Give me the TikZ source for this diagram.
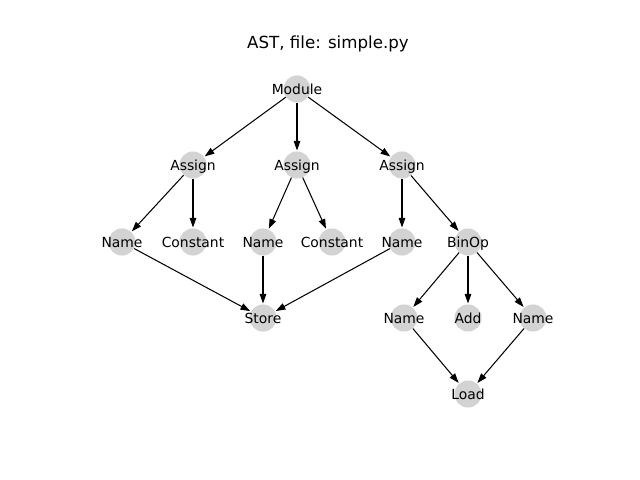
\documentclass[tikz,border=0pt]{standalone}
\usepackage{fontspec}
\setmainfont{DejaVu Sans}
\usetikzlibrary{arrows.meta}
\definecolor{nodegray}{HTML}{D3D3D3}
\tikzset{
  astnode/.style={circle,fill=nodegray,minimum size=19.5pt,inner sep=0pt,
    label={[font=\fontsize{10pt}{12pt}\selectfont,inner sep=0pt,text height=7.3pt,text depth=0pt]center:#1}},
  edge/.style={-{Triangle[length=7pt,width=4.8pt]},line width=0.75pt,shorten >=0.5pt}
}
\begin{document}
\begin{tikzpicture}[x=0.72pt,y=-0.72pt]
\useasboundingbox (0,0) rectangle (640,480);
\node[font=\fontsize{12pt}{14pt}\selectfont] (title) at (328,44) {AST, file: simple.py};
\node[astnode=Module] (mod) at (297,89) {};
\node[astnode=Assign] (as1) at (193,165) {};
\node[astnode=Assign] (as2) at (297,165) {};
\node[astnode=Assign] (as3) at (402,165) {};
\node[astnode=Name] (n1) at (122,242) {};
\node[astnode=Constant] (c1) at (193,242) {};
\node[astnode=Name] (n2) at (263,242) {};
\node[astnode=Constant] (c2) at (332,242) {};
\node[astnode=Name] (n3) at (402,242) {};
\node[astnode=BinOp] (bin) at (468,242) {};
\node[astnode=Store] (store) at (263,318) {};
\node[astnode=Name] (n4) at (404,318) {};
\node[astnode=Add] (add) at (468,318) {};
\node[astnode=Name] (n5) at (533,318) {};
\node[astnode=Load] (load) at (468,394) {};
\draw[edge] (mod) -- (as1);
\draw[edge] (mod) -- (as2);
\draw[edge] (mod) -- (as3);
\draw[edge] (as1) -- (n1);
\draw[edge] (as1) -- (c1);
\draw[edge] (as2) -- (n2);
\draw[edge] (as2) -- (c2);
\draw[edge] (as3) -- (n3);
\draw[edge] (as3) -- (bin);
\draw[edge] (n1) -- (store);
\draw[edge] (n2) -- (store);
\draw[edge] (n3) -- (store);
\draw[edge] (bin) -- (n4);
\draw[edge] (bin) -- (add);
\draw[edge] (bin) -- (n5);
\draw[edge] (n4) -- (load);
\draw[edge] (n5) -- (load);
\end{tikzpicture}
\end{document}
